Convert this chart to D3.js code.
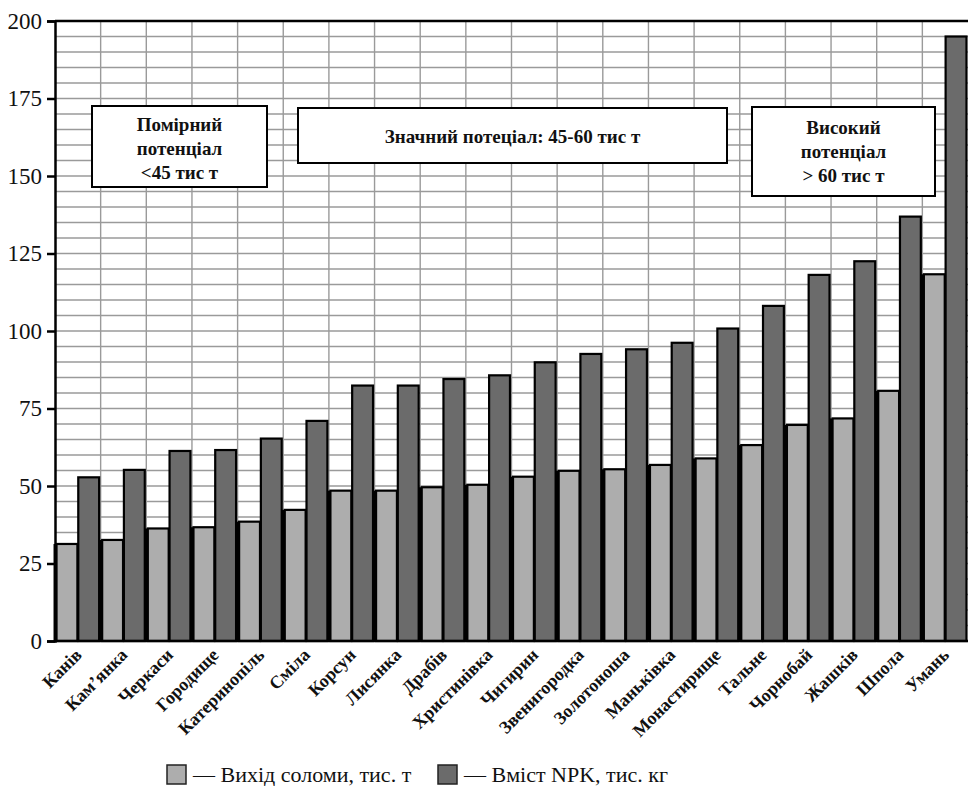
<!DOCTYPE html>
<html>
<head>
<meta charset="utf-8">
<script src="https://cdn.jsdelivr.net/npm/d3@7"></script>
</head>
<body style="margin:0">
<svg id="chart" width="968" height="786"></svg>
<script>
// districts, sorted by straw output
const categories = ["Канів", "Кам’янка", "Черкаси", "Городище", "Катеринопіль", "Сміла", "Корсун",
  "Лисянка", "Драбів", "Христинівка", "Чигирин", "Звенигородка", "Золотоноша", "Маньківка",
  "Монастирище", "Тальне", "Чорнобай", "Жашків", "Шпола", "Умань"];
const straw = [31.3, 32.6, 36.3, 36.7, 38.5, 42.3, 48.5, 48.5, 49.6, 50.4,
  53.0, 54.9, 55.4, 56.8, 58.9, 63.2, 69.7, 71.8, 80.7, 118.3];
const npk = [52.8, 55.2, 61.3, 61.6, 65.3, 71.0, 82.4, 82.4, 84.5, 85.7,
  89.9, 92.6, 94.1, 96.2, 100.8, 108.1, 118.1, 122.5, 136.9, 195.0];
const yTicks = [0, 25, 50, 75, 100, 125, 150, 175, 200];
const seriesNames = ["— Вихід соломи, тис. т", "— Вміст NPK, тис. кг"];
const seriesColors = ["#adadad", "#6b6b6b"];

const mLeft = 55, mRight = 968, mTop = 21, mBottom = 641;
const serif = '"Liberation Serif"';

const svg = d3.select("#chart");

const x = d3.scaleBand().domain(categories).range([mLeft, mRight]).padding(0);
const x1 = d3.scaleBand().domain([0, 1]).range([0, x.bandwidth()])
    .paddingInner(0.04).paddingOuter(0.07);
const y = d3.scaleLinear().domain([0, 200]).range([mBottom, mTop]);

// grid
const grid = svg.append("g").attr("stroke", "#9a9a9a").attr("stroke-width", 1.4);
grid.selectAll(".h").data(d3.range(5, 200, 5)).enter().append("line")
    .attr("x1", mLeft).attr("x2", mRight)
    .attr("y1", d => y(d)).attr("y2", d => y(d));
grid.selectAll(".v").data(categories.slice(1)).enter().append("line")
    .attr("x1", d => x(d)).attr("x2", d => x(d))
    .attr("y1", mTop).attr("y2", mBottom);

// bars
const groups = svg.selectAll(".grp").data(categories).enter().append("g")
    .attr("transform", d => `translate(${x(d)},0)`);

groups.append("rect")
    .attr("x", x1(0) - 3)
    .attr("y", (d, i) => y(straw[i]))
    .attr("width", 4)
    .attr("height", (d, i) => y(0) - y(straw[i]))
    .attr("fill", "#000");

[straw, npk].forEach((vals, s) => {
  groups.append("rect")
      .attr("x", x1(s))
      .attr("y", (d, i) => y(vals[i]))
      .attr("width", x1.bandwidth())
      .attr("height", (d, i) => y(0) - y(vals[i]))
      .attr("fill", seriesColors[s])
      .attr("stroke", "#000")
      .attr("stroke-width", 2.2);
});

// frame
svg.append("line").attr("x1", mLeft).attr("x2", mRight).attr("y1", mTop).attr("y2", mTop)
    .attr("stroke", "#000").attr("stroke-width", 2.5);
svg.append("line").attr("x1", mLeft).attr("x2", mRight).attr("y1", mBottom).attr("y2", mBottom)
    .attr("stroke", "#000").attr("stroke-width", 2.5);

const yAxis = svg.append("g")
    .attr("transform", `translate(${mLeft},0)`)
    .call(d3.axisLeft(y).tickValues(yTicks).tickSize(8).tickPadding(5));
yAxis.attr("font-family", null);
yAxis.select(".domain").attr("stroke-width", 2.5);
yAxis.selectAll(".tick line").attr("stroke-width", 2.5);
yAxis.selectAll(".tick text")
    .style("font-family", serif)
    .style("font-size", "23px").attr("fill", "#111");

// x labels
svg.append("g").selectAll("text").data(categories).enter().append("text")
    .attr("transform", d => `translate(${x(d) + x.bandwidth() / 2 + 5},${mBottom + 15}) rotate(-45)`)
    .attr("text-anchor", "end")
    .style("font-family", serif)
    .style("font-size", "18px").style("font-weight", "bold").attr("fill", "#111")
    .text(d => d);

// annotation boxes
const notes = [
  { x0: 92, x1: 267, y0: 106, y1: 187, lines: ["Помірний", "потенціал", "<45 тис т"], base: 131 },
  { x0: 298, x1: 727, y0: 108, y1: 163, lines: ["Значний потеціал: 45-60 тис т"], base: 143 },
  { x0: 752, x1: 935, y0: 107, y1: 196, lines: ["Високий", "потенціал", "> 60 тис т"], base: 134 }
];
notes.forEach(n => {
  svg.append("rect").attr("x", n.x0).attr("y", n.y0)
      .attr("width", n.x1 - n.x0).attr("height", n.y1 - n.y0)
      .attr("fill", "#fff").attr("stroke", "#000").attr("stroke-width", 2);
  n.lines.forEach((t, i) => {
    svg.append("text")
        .attr("x", (n.x0 + n.x1) / 2).attr("y", n.base + i * 24)
        .attr("text-anchor", "middle")
        .style("font-family", serif)
        .style("font-size", "19px").style("font-weight", "bold").attr("fill", "#111")
        .text(t);
  });
});

// legend
const legendX = [167, 438];
seriesNames.forEach((name, s) => {
  svg.append("rect").attr("x", legendX[s]).attr("y", 765)
      .attr("width", 19).attr("height", 19)
      .attr("fill", seriesColors[s]).attr("stroke", "#222").attr("stroke-width", 1.5);
  svg.append("text").attr("x", legendX[s] + 26).attr("y", 782)
      .style("font-family", serif)
      .style("font-size", "22px").attr("fill", "#111")
      .text(name);
});
</script>
</body>
</html>
